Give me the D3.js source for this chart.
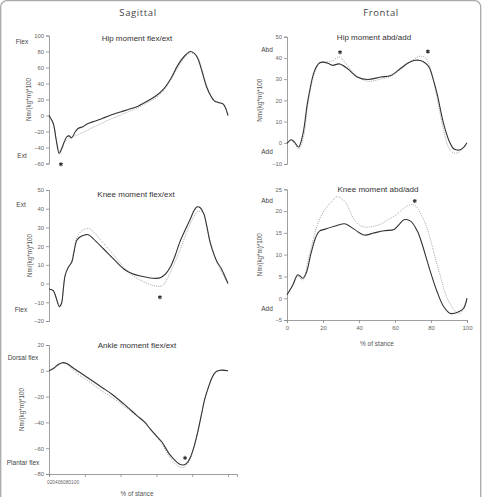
<!DOCTYPE html>
<html>
<head>
<meta charset="utf-8">
<script src="https://cdn.jsdelivr.net/npm/d3@7"></script>
<style>
  body { margin: 0; background: #fff; }
  svg { display: block; font-family: "Liberation Sans", Arial, sans-serif; }
</style>
</head>
<body>
<svg id="chart" width="482" height="497"></svg>
<script>
// ---- data: [% of stance, Nm/(kg*m)*100] ----
var hipFlexSolid = [[0,0],[2.4,-10],[4,-30],[5.7,-47.5],[7,-42],[8.5,-33],[10,-26.5],[11.2,-25.5],[12.6,-28],[14.5,-21],[16.4,-16],[19,-14],[21,-11],[23,-9],[26,-7],[30,-3.5],[34,0],[40,4.5],[45,8],[50,12],[55,18],[60,25],[64,33],[68,46],[72,63],[76,75],[79,80],[81,78],[83,72],[85.5,55],[88,36],[90.5,24],[92.5,18],[95,16],[97.5,14],[100,0]];
var hipFlexDotted = [[0,0],[2.4,-11],[4,-30],[5.9,-45],[7.5,-40],[9,-33],[12,-27.5],[15.6,-24.5],[20,-20],[24,-15.5],[27.5,-12],[31,-8],[35,-4],[40,0.5],[44,4.5],[49,9],[54,15],[59,21],[64,31],[68,44],[72,60],[76,73],[79,78],[81.5,77],[83.5,71],[86,53],[88.5,35],[91,23],[93,18],[95.5,16],[98,12],[100,0]];

var kneeFlexSolid = [[0,-2.9],[2.4,-3.8],[3.9,-7.3],[5.8,-12.3],[7,-10.5],[8,-3],[9,4.3],[10.8,8.7],[12.7,11.4],[14,17],[15.5,23],[17.5,25],[20,26],[22,26.1],[24.8,23.9],[30.4,18.6],[36,13.2],[41.6,7.9],[46,5.5],[51,4],[56.5,3],[60,2.8],[62.5,3.3],[65,5],[67.7,8.7],[70.5,15],[73,22],[76,28.5],[79,34.6],[81,39],[82.8,41],[84.5,40.5],[86.4,37.5],[88.3,30],[90,22],[92,16],[94,11.4],[96,8.5],[97.5,5.5],[100,0]];
var kneeFlexDotted = [[0,-2.9],[2.4,-3.8],[3.9,-7.3],[5.8,-12.3],[7,-10.5],[8,-3],[9,4.3],[10.8,8.7],[12.7,12],[14,18],[15.5,24.5],[18,28],[22,29.5],[25,27.5],[30,22],[36,15.5],[42,8.5],[48,3.5],[54,0.5],[58,-1],[61,-1.5],[63.5,-1],[66,2.5],[69.5,9.5],[73,17.5],[77,27.5],[80.5,35],[83,38.5],[85,38.5],[86.5,37],[89,27],[91.5,18],[94,11],[97,5],[100,0]];

var ankleSolid = [[0,0],[2.4,1.8],[5.2,4.9],[7.5,6.3],[9.9,5.7],[13.6,2.2],[16.4,-0.5],[20,-3.8],[26,-9.5],[30,-13.3],[35,-18],[41.6,-25.5],[49,-34.5],[53.6,-40],[56.5,-45],[60,-50.5],[63,-55],[67,-64],[70.4,-69.5],[72.5,-72],[75,-73],[77,-71.5],[79,-67],[81,-59],[83,-48],[85,-35],[87,-22],[89,-13],[91,-5.5],[93,-1],[95,0.3],[97,0.5],[100,0]];
var ankleDotted = [[0,0],[2.4,1.6],[5.2,4.5],[7.5,5.8],[10,5],[13.6,0.5],[17,-3.5],[20,-6],[26,-12],[30,-16],[35,-20.5],[41.6,-27],[49,-35],[53.6,-40.5],[60,-51],[63,-56.5],[67,-66],[70.4,-72],[73,-74.5],[75,-75],[77,-73],[79,-68],[81,-59],[83,-48],[85,-35],[87,-22],[89,-13],[91,-5.5],[93,-1],[95,0.3],[97,0.5],[100,0]];

var hipAbdSolid = [[0,-0.3],[2.4,1.4],[4.2,0.3],[6.4,-2],[8.8,4],[11.6,20],[15.3,34],[18,37.6],[19.9,38],[22.7,37.5],[25.4,36.5],[29,37.2],[33.7,34.9],[39,31],[44.8,29.8],[52,31],[57.6,31.7],[63,35],[67,37.5],[70.5,38.8],[74,38.8],[77,37.5],[79,35.5],[81.2,30],[83.4,23],[87,9],[90,1],[92.6,-2.8],[94.5,-3.4],[96.3,-3.3],[98.3,-2],[100,0]];
var hipAbdDotted = [[0,-0.3],[2.4,1.2],[4.5,-0.5],[6.5,-3],[9,2],[11.6,18],[15,32],[18,37.5],[21,38],[25,38.5],[29,40.5],[33,37],[38,32],[44.8,29],[52,30],[58,31.5],[63,34.5],[69,38.5],[74,40.8],[77,40],[80,34],[83.4,21],[87,6],[90,-2.5],[92.6,-4.8],[95.5,-4.5],[98,-2],[100,0]];

var kneeAbdSolid = [[0,0.8],[3.3,3.1],[6,5.4],[8.8,4.6],[10.7,5.8],[13.4,10.4],[16,14],[18,15.4],[20.8,15.8],[26.3,16.5],[31.9,17.1],[37.4,15.8],[42.9,14.5],[48.4,15],[53.9,15.5],[59.5,15.8],[62.5,17],[65,18],[68.7,17.7],[72.4,15.4],[75,12.5],[77.9,8.5],[80.5,5],[83.4,1.5],[87,-1.9],[90.8,-3.5],[95.4,-3.1],[98.2,-2.3],[100,0]];
var kneeAbdDotted = [[0,0.8],[3.3,3.1],[6,5],[8.8,4.2],[11.6,8.5],[14,12.5],[17,17],[20.5,20],[24.5,22],[28,23.3],[32,22.3],[35,20],[37.4,18],[41,16.6],[44.8,16.3],[48,16.5],[52,17],[56,18],[59.5,18.8],[63,20],[67,21.2],[69.6,21.5],[72,21],[74,19.6],[77,17],[80,13],[82.5,9],[85,5.4],[89,0],[93.5,-3],[96,-3.5],[98.3,-2],[100,0]];

// significance markers
var hipFlexStars = [[6.7,-61]];
var kneeFlexStars = [[62,-7.3]];
var ankleStars = [[76,-67.5]];
var hipAbdStars = [[29.5,42.7],[78.3,43]];
var kneeAbdStars = [[71,22.3]];

var hipFlexTicks = [-60,-40,-20,0,20,40,60,80,100];
var kneeFlexTicks = [-20,-10,0,10,20,30,40,50];
var ankleTicks = [-80,-60,-40,-20,0,20];
var hipAbdTicks = [-10,0,10,20,30,40,50];
var kneeAbdTicks = [-5,0,5,10,15,20,25];
var stanceTicks = [0,20,40,60,80,100];

var svg = d3.select("#chart");

// outer frame
svg.append("rect")
    .attr("x",0.7).attr("y",0.7)
    .attr("width",480).attr("height",540)
    .attr("rx",6)
    .attr("fill","none")
    .attr("stroke","#aaa")
    .attr("stroke-width",1.3);

// column headers
svg.append("text").attr("x",138).attr("y",16).attr("text-anchor","middle")
    .attr("font-family","'Open Sans', sans-serif").attr("font-size",9.5).attr("fill","#444")
    .attr("letter-spacing",0.6).text("Sagittal");
svg.append("text").attr("x",381).attr("y",16).attr("text-anchor","middle")
    .attr("font-family","'Open Sans', sans-serif").attr("font-size",9.5).attr("fill","#444")
    .attr("letter-spacing",0.6).text("Frontal");

var xLeft = d3.scaleLinear().domain([0,100]).range([49,228]);
var xRight = d3.scaleLinear().domain([0,100]).range([287,467]);

var line = d3.line().curve(d3.curveCatmullRom.alpha(0.5));
var star = d3.symbol().type(d3.symbolAsterisk).size(11);

function panel(o){
    var x = o.x, y = d3.scaleLinear().domain(o.domain).range(o.range);
    var g = svg.append("g");

    // y axis
    var ax = g.append("g")
        .attr("transform","translate(" + x.range()[0] + ",0)")
        .call(d3.axisLeft(y).tickValues(o.ticks).tickSize(3).tickPadding(2));
    ax.select(".domain").attr("stroke","#888").attr("stroke-width",0.8);
    ax.selectAll(".tick line").attr("stroke","#888").attr("stroke-width",0.8);
    ax.selectAll(".tick text").attr("fill","#666").attr("font-size",5.8)
        .attr("font-family","'Liberation Sans', Arial, sans-serif");

    // title
    g.append("text").attr("x",o.titleX).attr("y",o.titleY).attr("text-anchor","middle")
        .attr("font-size",8).attr("fill","#333").text(o.title);

    // y label
    var yMid = (o.range[0] + o.range[1]) / 2;
    g.append("text")
        .attr("transform","translate(" + o.labelX + "," + yMid + ")rotate(-90)")
        .attr("text-anchor","middle").attr("font-size",6.3).attr("fill","#555")
        .text("Nm/(kg*m)*100");

    // direction labels
    g.append("text").attr("x",o.dirX).attr("y",y(o.topDir[1])).attr("text-anchor","middle")
        .attr("dy","0.35em").attr("font-size",6.5).attr("fill","#444").text(o.topDir[0]);
    g.append("text").attr("x",o.dirX).attr("y",y(o.botDir[1])).attr("text-anchor","middle")
        .attr("dy","0.35em").attr("font-size",6.5).attr("fill","#444").text(o.botDir[0]);

    // curves
    g.append("path")
        .attr("d", line(o.dotted.map(function(d){ return [x(d[0]), y(d[1])]; })))
        .attr("fill","none").attr("stroke","#999").attr("stroke-width",0.9)
        .attr("stroke-dasharray","1,1.2");
    g.append("path")
        .attr("d", line(o.solid.map(function(d){ return [x(d[0]), y(d[1])]; })))
        .attr("fill","none").attr("stroke","#333").attr("stroke-width",1.1);

    // stars
    g.selectAll("path.star").data(o.stars).enter().append("path")
        .attr("class","star")
        .attr("transform", function(d){ return "translate(" + x(d[0]) + "," + y(d[1]) + ")"; })
        .attr("d", star)
        .attr("fill","none").attr("stroke","#333").attr("stroke-width",1.1);

    return {g:g, y:y};
}

panel({x:xLeft, domain:[-60,100], range:[163.5,35.5], ticks:hipFlexTicks,
    title:"Hip moment flex/ext", titleX:137, titleY:41, labelX:31, dirX:22,
    topDir:["Flex",92], botDir:["Ext",-50],
    solid:hipFlexSolid, dotted:hipFlexDotted, stars:hipFlexStars});

panel({x:xLeft, domain:[-20,50], range:[321,190], ticks:kneeFlexTicks,
    title:"Knee moment flex/ext", titleX:136, titleY:197, labelX:32, dirX:21,
    topDir:["Ext",42], botDir:["Flex",-14],
    solid:kneeFlexSolid, dotted:kneeFlexDotted, stars:kneeFlexStars});

var ank = panel({x:xLeft, domain:[-80,20], range:[474,345], ticks:ankleTicks,
    title:"Ankle moment flex/ext", titleX:137, titleY:348, labelX:24, dirX:23,
    topDir:["Dorsal flex",10], botDir:["Plantar flex",-71],
    solid:ankleSolid, dotted:ankleDotted, stars:ankleStars});

panel({x:xRight, domain:[-10,50], range:[164,36.7], ticks:hipAbdTicks,
    title:"Hip moment abd/add", titleX:374, titleY:40, labelX:262, dirX:267,
    topDir:["Abd",44], botDir:["Add",-4.2],
    solid:hipAbdSolid, dotted:hipAbdDotted, stars:hipAbdStars});

var kab = panel({x:xRight, domain:[-5,25], range:[320,189.3], ticks:kneeAbdTicks,
    title:"Knee moment abd/add", titleX:378, titleY:192, labelX:262, dirX:267,
    topDir:["Abd",22.3], botDir:["Add",-2.5],
    solid:kneeAbdSolid, dotted:kneeAbdDotted, stars:kneeAbdStars});

// x axis of knee abd/add
var xa = svg.append("g").attr("transform","translate(0," + kab.y(-5) + ")")
    .call(d3.axisBottom(xRight).tickValues(stanceTicks).tickSize(3).tickPadding(3));
xa.select(".domain").attr("stroke","#888").attr("stroke-width",0.8);
xa.selectAll(".tick line").attr("stroke","#888").attr("stroke-width",0.8);
xa.selectAll(".tick text").attr("fill","#666").attr("font-size",6)
    .attr("font-family","'Liberation Sans', Arial, sans-serif");
svg.append("text").attr("x",377).attr("y",346).attr("text-anchor","middle")
    .attr("font-size",6.5).attr("fill","#555").text("% of stance");

// x axis of ankle: axis line runs a little past 100, labels squeezed together
var xAnk = xLeft.copy().domain([0,105]).range([xLeft(0), xLeft(105)]);
var xb = svg.append("g").attr("transform","translate(0," + ank.y(-80) + ")")
    .call(d3.axisBottom(xAnk).tickValues(stanceTicks).tickSize(3).tickFormat(""));
xb.select(".domain").attr("stroke","#888").attr("stroke-width",0.8);
xb.selectAll(".tick line").attr("stroke","#888").attr("stroke-width",0.8);
var squeezed = svg.append("text").attr("x",47).attr("y",484)
    .attr("font-size",4.8).attr("fill","#666");
squeezed.selectAll("tspan").data(stanceTicks).enter().append("tspan").text(function(d){ return d; });
svg.append("text").attr("x",137).attr("y",495.5).attr("text-anchor","middle")
    .attr("font-size",6.3).attr("fill","#555").text("% of stance");
</script>
</body>
</html>
